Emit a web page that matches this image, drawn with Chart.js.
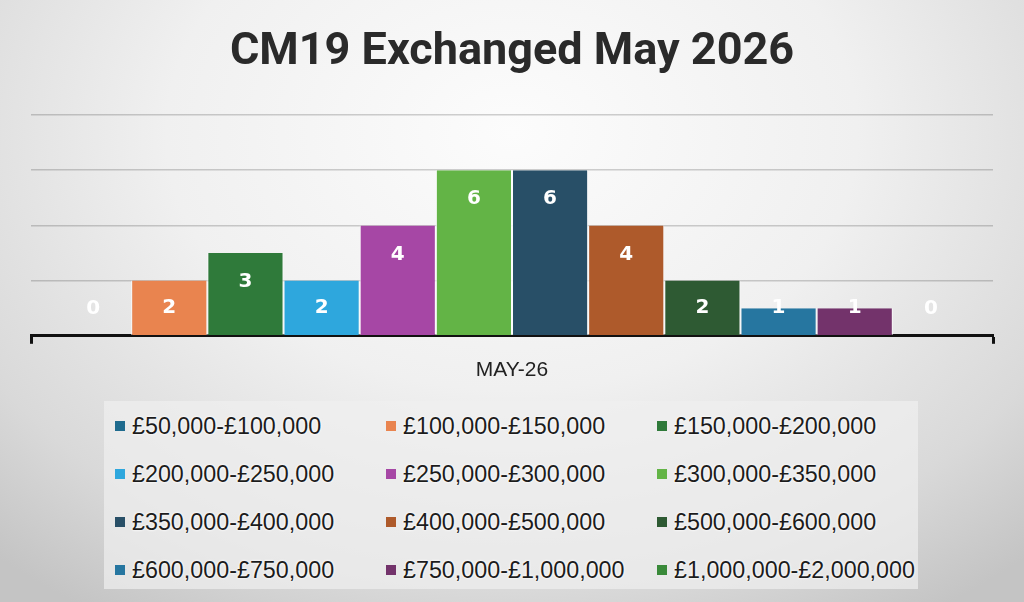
<!DOCTYPE html>
<html>
<head>
<meta charset="utf-8">
<script src="https://cdn.jsdelivr.net/npm/chart.js@4"></script>
<style>
  html, body { margin: 0; padding: 0; }
  body {
    width: 1024px; height: 602px; overflow: hidden; position: relative;
    background: radial-gradient(ellipse 75% 95% at 50% 22%, #fcfcfc 0%, #f0f0f0 45%, #d9d9d9 80%, #c4c4c4 100%);
  }
  #wrap { position: absolute; left: 0; top: 0; width: 1024px; height: 397px; }
  #legenda {
    position: absolute; left: 104px; top: 401px; width: 814px; height: 188px;
    background: rgba(240,240,240,0.7);
    display: grid; grid-template-columns: 271px 271px 272px; grid-auto-rows: 48px;
    padding-top: 1px; box-sizing: border-box;
    font-family: "Liberation Sans", Arial, sans-serif; font-size: 23.3px; color: #1c1c1c;
  }
  .item { display: flex; align-items: center; padding-left: 11px; text-shadow: 0 0 3px #fff, 0 0 2px #fff; }
  .quadrado { width: 10px; height: 10px; margin-right: 7px; flex: none; }
</style>
</head>
<body>
<div id="wrap"><canvas id="graficoCM19"></canvas></div>
<div id="legenda"></div>
<script>
const categorias = ["MAY-26"];
const faixas = [
  "£50,000-£100,000", "£100,000-£150,000", "£150,000-£200,000",
  "£200,000-£250,000", "£250,000-£300,000", "£300,000-£350,000",
  "£350,000-£400,000", "£400,000-£500,000", "£500,000-£600,000",
  "£600,000-£750,000", "£750,000-£1,000,000", "£1,000,000-£2,000,000"
];
const valores = [0, 2, 3, 2, 4, 6, 6, 4, 2, 1, 1, 0];
const cores = [
  "#1f6b8e", "#e9844f", "#2f7a3a", "#2ea7dd", "#a647a5", "#63b446",
  "#284f67", "#ae5a2b", "#2e5a33", "#2676a0", "#73336b", "#3a8a3a"
];

// rotulos brancos dentro das barras
const rotulos = {
  id: "rotulos",
  afterDraw(grafico) {
    const ctx = grafico.ctx;
    ctx.save();
    ctx.font = "bold 20px 'DejaVu Sans'";
    ctx.fillStyle = "#ffffff";
    ctx.textAlign = "center";
    ctx.textBaseline = "middle";
    grafico.data.datasets.forEach((ds, i) => {
      const barra = grafico.getDatasetMeta(i).data[0];
      const y = Math.min(barra.y + 29, barra.base - 27);
      ctx.fillText(String(ds.data[0]), barra.x, y);
    });
    ctx.restore();
  }
};

const grafico = new Chart(document.getElementById("graficoCM19"), {
  type: "bar",
  data: {
    labels: categorias,
    datasets: faixas.map((faixa, i) => ({
      label: faixa,
      data: [valores[i]],
      backgroundColor: cores[i],
      borderColor: "rgba(255,255,255,0.85)",
      borderWidth: { left: 1, right: 1, top: 0, bottom: 0 },
      barPercentage: 1,
      categoryPercentage: 0.95,
    })),
  },
  options: {
    responsive: true,
    maintainAspectRatio: false,
    animation: false,
    layout: { padding: { left: 31, right: 31, bottom: 0 } },
    plugins: {
      legend: { display: false },
      tooltip: { enabled: false },
      title: {
        display: true,
        text: "CM19 Exchanged May 2026",
        color: "#2a2a2a",
        font: { family: "Roboto", size: 45, weight: "bold" },
        padding: { top: 26, bottom: 35 },
      },
    },
    scales: {
      x: {
        z: 1,
        grid: {
          drawOnChartArea: false,
          drawTicks: true,
          tickLength: 8,
          tickColor: "#111",
          tickWidth: 3,
        },
        border: { color: "#111", width: 3 },
        ticks: {
          color: "#222",
          padding: 14,
          font: { family: "Liberation Sans", size: 21 },
        },
      },
      y: {
        z: 1,
        min: 0,
        max: 8,
        ticks: { display: false, stepSize: 2 },
        grid: { color: "rgba(0,0,0,0.18)", lineWidth: 1.5, drawTicks: false },
        border: { display: false },
      },
    },
  },
  plugins: [rotulos],
});

// legenda em grade de 3 colunas
const legenda = document.getElementById("legenda");
faixas.forEach((faixa, i) => {
  const item = document.createElement("div");
  item.className = "item";
  item.innerHTML = '<span class="quadrado" style="background:' + cores[i] + '"></span>' + faixa;
  legenda.appendChild(item);
});
</script>
</body>
</html>
